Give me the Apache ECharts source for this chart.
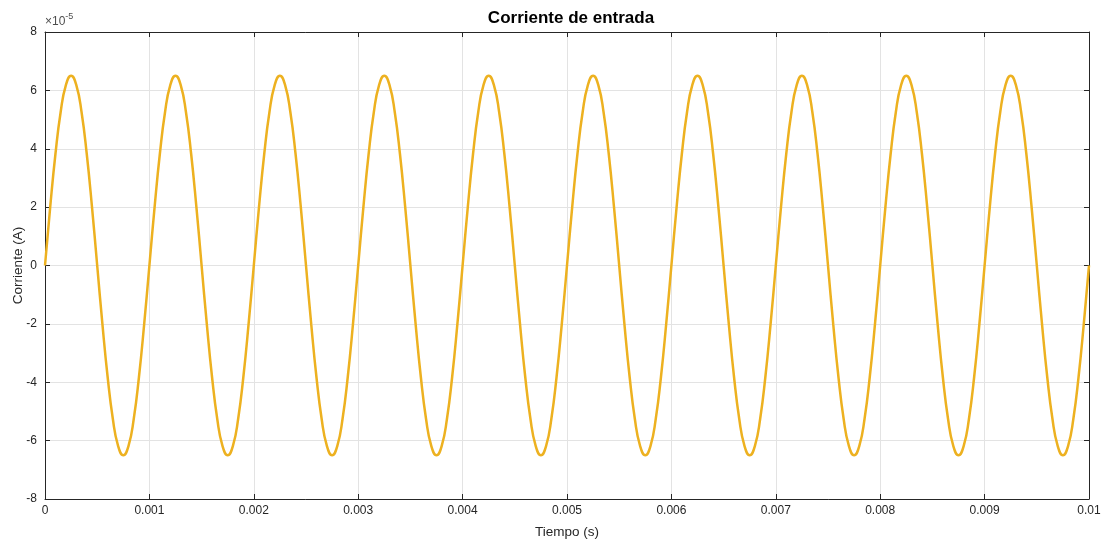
<!DOCTYPE html>
<html>
<head>
<meta charset="utf-8">
<script src="https://cdn.jsdelivr.net/npm/echarts@6/dist/echarts.min.js"></script>
<style>html,body{margin:0;padding:0;background:#fff}#c{width:1106px;height:541px}</style>
</head>
<body>
<div id="c"></div>
<script>
// Time samples (s)
const tiempo = [
0,0.00005,0.0001,0.00015,0.0002,0.00025,0.0003,0.00035,0.0004,0.00045,0.0005,0.00055,0.0006,0.00065,0.0007,0.00075,0.0008,0.00085,0.0009,0.00095,
0.001,0.00105,0.0011,0.00115,0.0012,0.00125,0.0013,0.00135,0.0014,0.00145,0.0015,0.00155,0.0016,0.00165,0.0017,0.00175,0.0018,0.00185,0.0019,0.00195,
0.002,0.00205,0.0021,0.00215,0.0022,0.00225,0.0023,0.00235,0.0024,0.00245,0.0025,0.00255,0.0026,0.00265,0.0027,0.00275,0.0028,0.00285,0.0029,0.00295,
0.003,0.00305,0.0031,0.00315,0.0032,0.00325,0.0033,0.00335,0.0034,0.00345,0.0035,0.00355,0.0036,0.00365,0.0037,0.00375,0.0038,0.00385,0.0039,0.00395,
0.004,0.00405,0.0041,0.00415,0.0042,0.00425,0.0043,0.00435,0.0044,0.00445,0.0045,0.00455,0.0046,0.00465,0.0047,0.00475,0.0048,0.00485,0.0049,0.00495,
0.005,0.00505,0.0051,0.00515,0.0052,0.00525,0.0053,0.00535,0.0054,0.00545,0.0055,0.00555,0.0056,0.00565,0.0057,0.00575,0.0058,0.00585,0.0059,0.00595,
0.006,0.00605,0.0061,0.00615,0.0062,0.00625,0.0063,0.00635,0.0064,0.00645,0.0065,0.00655,0.0066,0.00665,0.0067,0.00675,0.0068,0.00685,0.0069,0.00695,
0.007,0.00705,0.0071,0.00715,0.0072,0.00725,0.0073,0.00735,0.0074,0.00745,0.0075,0.00755,0.0076,0.00765,0.0077,0.00775,0.0078,0.00785,0.0079,0.00795,
0.008,0.00805,0.0081,0.00815,0.0082,0.00825,0.0083,0.00835,0.0084,0.00845,0.0085,0.00855,0.0086,0.00865,0.0087,0.00875,0.0088,0.00885,0.0089,0.00895,
0.009,0.00905,0.0091,0.00915,0.0092,0.00925,0.0093,0.00935,0.0094,0.00945,0.0095,0.00955,0.0096,0.00965,0.0097,0.00975,0.0098,0.00985,0.0099,0.00995,
0.01
];
// Current (units of 1e-5 A)
const corriente = [
0,2.01,3.82,5.26,6.18,6.5,6.18,5.26,3.82,2.01,0,-2.01,-3.82,-5.26,-6.18,-6.5,-6.18,-5.26,-3.82,-2.01,
0,2.01,3.82,5.26,6.18,6.5,6.18,5.26,3.82,2.01,0,-2.01,-3.82,-5.26,-6.18,-6.5,-6.18,-5.26,-3.82,-2.01,
0,2.01,3.82,5.26,6.18,6.5,6.18,5.26,3.82,2.01,0,-2.01,-3.82,-5.26,-6.18,-6.5,-6.18,-5.26,-3.82,-2.01,
0,2.01,3.82,5.26,6.18,6.5,6.18,5.26,3.82,2.01,0,-2.01,-3.82,-5.26,-6.18,-6.5,-6.18,-5.26,-3.82,-2.01,
0,2.01,3.82,5.26,6.18,6.5,6.18,5.26,3.82,2.01,0,-2.01,-3.82,-5.26,-6.18,-6.5,-6.18,-5.26,-3.82,-2.01,
0,2.01,3.82,5.26,6.18,6.5,6.18,5.26,3.82,2.01,0,-2.01,-3.82,-5.26,-6.18,-6.5,-6.18,-5.26,-3.82,-2.01,
0,2.01,3.82,5.26,6.18,6.5,6.18,5.26,3.82,2.01,0,-2.01,-3.82,-5.26,-6.18,-6.5,-6.18,-5.26,-3.82,-2.01,
0,2.01,3.82,5.26,6.18,6.5,6.18,5.26,3.82,2.01,0,-2.01,-3.82,-5.26,-6.18,-6.5,-6.18,-5.26,-3.82,-2.01,
0,2.01,3.82,5.26,6.18,6.5,6.18,5.26,3.82,2.01,0,-2.01,-3.82,-5.26,-6.18,-6.5,-6.18,-5.26,-3.82,-2.01,
0,2.01,3.82,5.26,6.18,6.5,6.18,5.26,3.82,2.01,0,-2.01,-3.82,-5.26,-6.18,-6.5,-6.18,-5.26,-3.82,-2.01,
0
];
const xTicks = [0,0.001,0.002,0.003,0.004,0.005,0.006,0.007,0.008,0.009,0.01];
const yTicks = [-8,-6,-4,-2,0,2,4,6,8];
const titulo = 'Corriente de entrada';

const FONT = '"Liberation Sans", Arial, Helvetica, sans-serif';
const AX = '#262626';
const chart = echarts.init(document.getElementById('c'), null, {renderer: 'canvas'});
const common = {
  axisLine: {show: true, onZero: false, lineStyle: {color: AX, width: 1}},
  axisTick: {show: true, inside: true, length: 5, lineStyle: {color: AX}},
  splitLine: {show: true, lineStyle: {color: '#e3e3e3', width: 1}}
};
chart.setOption({
  animation: false,
  backgroundColor: '#fff',
  title: {
    text: titulo, left: 566, top: 5, textAlign: 'center',
    textStyle: {fontFamily: FONT, fontSize: 17, fontWeight: 'bold', color: '#000'}
  },
  graphic: [{
    type: 'text', left: 45, top: 12,
    style: {
      text: '{a|×10}{b|-5}',
      rich: {
        a: {fontFamily: FONT, fontSize: 12, fill: '#4d4d4d', padding: [4,0,0,0]},
        b: {fontFamily: FONT, fontSize: 9, fill: '#4d4d4d', verticalAlign: 'top', padding: [0,0,7,0]}
      }
    }
  }],
  grid: {left: 45, right: 17, top: 32, bottom: 42, containLabel: false, outerBoundsMode: 'none'},
  xAxis: [
    Object.assign({}, common, {
      type: 'value', min: xTicks[0], max: xTicks[xTicks.length-1], interval: 0.001,
      name: 'Tiempo (s)', nameLocation: 'middle', nameGap: 26, nameMoveOverlap: false,
      nameTextStyle: {fontFamily: FONT, fontSize: 13.5, color: AX},
      axisLabel: {fontFamily: FONT, fontSize: 12, color: AX, margin: 6,
        formatter: v => { const r = Math.round(v*1000)/1000; return String(r); }}
    }),
    Object.assign({}, common, {
      type: 'value', position: 'top', min: xTicks[0], max: xTicks[xTicks.length-1], interval: 0.001,
      axisLabel: {show: false}, splitLine: {show: false}
    })
  ],
  yAxis: [
    Object.assign({}, common, {
      type: 'value', min: yTicks[0], max: yTicks[yTicks.length-1], interval: 2,
      name: 'Corriente (A)', nameLocation: 'middle', nameGap: 20, nameMoveOverlap: false,
      nameTextStyle: {fontFamily: FONT, fontSize: 13.5, color: AX},
      axisLabel: {fontFamily: FONT, fontSize: 12, color: AX, margin: 8}
    }),
    Object.assign({}, common, {
      type: 'value', position: 'right', min: yTicks[0], max: yTicks[yTicks.length-1], interval: 2,
      axisLabel: {show: false}, splitLine: {show: false}
    })
  ],
  series: [{
    type: 'line',
    data: tiempo.map((t, i) => [t, corriente[i]]),
    showSymbol: false,
    smooth: 0.5,
    lineStyle: {color: '#EDB120', width: 2.5},
    itemStyle: {color: '#EDB120'}
  }]
});
</script>
</body>
</html>
